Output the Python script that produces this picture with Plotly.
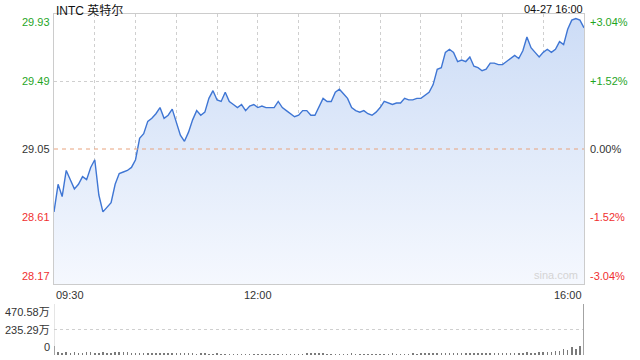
import plotly.graph_objects as go

# ---- data ----
minutes = list(range(0, 391, 3))  # minutes after 09:30
prices = [
    28.64, 28.82, 28.74, 28.91, 28.85, 28.79, 28.82, 28.87, 28.85, 28.93,
    28.98, 28.75, 28.64, 28.67, 28.70, 28.82, 28.89, 28.90, 28.91, 28.93,
    28.98, 29.12, 29.15, 29.23, 29.25, 29.28, 29.32, 29.25, 29.27, 29.31,
    29.23, 29.14, 29.10, 29.16, 29.24, 29.30, 29.27, 29.29, 29.38, 29.43,
    29.37, 29.36, 29.42, 29.36, 29.34, 29.32, 29.34, 29.30, 29.33, 29.34,
    29.32, 29.33, 29.32, 29.32, 29.32, 29.36, 29.32, 29.30, 29.28, 29.26,
    29.27, 29.30, 29.30, 29.27, 29.27, 29.32, 29.38, 29.36, 29.36, 29.42,
    29.44, 29.41, 29.38, 29.32, 29.30, 29.29, 29.30, 29.28, 29.27, 29.29,
    29.32, 29.36, 29.35, 29.34, 29.35, 29.35, 29.38, 29.37, 29.37, 29.38,
    29.38, 29.40, 29.42, 29.47, 29.57, 29.58, 29.68, 29.70, 29.68, 29.62,
    29.63, 29.62, 29.65, 29.59, 29.58, 29.56, 29.57, 29.61, 29.61, 29.60,
    29.60, 29.62, 29.64, 29.66, 29.64, 29.69, 29.78, 29.71, 29.68, 29.65,
    29.68, 29.70, 29.68, 29.70, 29.75, 29.73, 29.83, 29.89, 29.90, 29.89,
    29.84,
]
volumes = [  # 万 shares
    85,
    28, 22, 25, 20, 24, 18, 22, 26, 30, 20, 18, 25, 22, 20, 28, 24, 26, 30, 22, 20,
    18, 20, 15, 22, 18, 16, 14, 20, 18, 15, 14, 16, 18, 14, 12, 15, 14, 13, 12, 14,
    10, 12, 11, 10, 9, 11, 10, 12, 10, 9, 10, 11, 9, 10, 12, 10, 11, 9, 10, 12,
    12, 14, 16, 18, 15, 14, 12, 13, 12, 11, 10, 12, 14, 12, 11, 10, 12, 11, 13, 12,
    12, 13, 14, 12, 11, 13, 12, 14, 13, 15, 16, 18, 20, 18, 16, 15, 17, 16, 14, 15,
    14, 16, 15, 18, 17, 16, 15, 18, 20, 19, 18, 20, 22, 18, 20, 24, 22, 20, 25, 24,
    26, 30, 35, 40, 55, 45, 70, 60, 80,
    470.58,
]
prev_close = 29.05
price_ticks = [29.93, 29.49, 29.05, 28.61, 28.17]
price_labels = ["29.93", "29.49", "29.05", "28.61", "28.17"]
pct_labels = ["+3.04%", "+1.52%", "0.00%", "-1.52%", "-3.04%"]
vol_ticks = [470.58, 235.29, 0]
vol_labels = ["470.58万", "235.29万", "0"]
time_ticks = [0, 150, 390]
time_labels = ["09:30", "12:00", "16:00"]
title = "INTC 英特尔"
stamp = "04-27 16:00"

W, H = 640, 360
def px(x):
    return x / W
def py(y):
    return 1 - y / H

FONT = "Liberation Sans, Arial, Noto Sans CJK SC, sans-serif"
GREEN = "#1fa51f"
RED = "#f03030"
DARK = "#333333"
GRID = "#cfcfcf"
BORDER = "#cccccc"

fig = go.Figure()
fig.add_trace(go.Scatter(
    x=minutes, y=prices, mode="lines",
    line=dict(color="#3f76d4", width=1.4),
    fill="tozeroy",
    fillgradient=dict(type="vertical", start=28.17, stop=29.93,
                      colorscale=[[0, "rgb(245,248,254)"], [1, "rgb(204,220,246)"]]),
    xaxis="x", yaxis="y", hoverinfo="skip",
))
fig.add_trace(go.Bar(
    x=minutes, y=volumes, marker=dict(color="#7a7a7a", line=dict(width=0)),
    width=1.1, xaxis="x2", yaxis="y2", hoverinfo="skip",
))

x_dom = [px(54), px(584)]
fig.update_layout(
    width=W, height=H, margin=dict(l=0, r=0, t=0, b=0),
    paper_bgcolor="white", plot_bgcolor="white", showlegend=False,
    font=dict(family=FONT, size=11, color=DARK),
    xaxis=dict(domain=x_dom, range=[0, 390], tickvals=list(range(0, 391, 30)),
               showticklabels=False, ticks="", showgrid=True, gridcolor=GRID,
               griddash="dot", gridwidth=1, zeroline=False,
               showline=True, linecolor=BORDER, mirror=True, anchor="y"),
    yaxis=dict(domain=[py(284), py(14)], range=[28.17, 29.93],
               tickvals=[29.49, 28.61], showticklabels=False, ticks="",
               showgrid=True, gridcolor=GRID, griddash="dot", zeroline=False,
               showline=True, linecolor=BORDER, mirror=True, anchor="x"),
    xaxis2=dict(domain=x_dom, range=[0, 390], matches="x", showticklabels=False,
                ticks="", showgrid=False, zeroline=False, anchor="y2",
                showline=False),
    yaxis2=dict(domain=[py(355), py(304)], range=[0, 470.58],
                tickvals=[470.58, 235.29], showticklabels=False, ticks="",
                showgrid=True, gridcolor=GRID, griddash="dot", zeroline=False,
                showline=False, anchor="x2"),
    bargap=0,
)

# previous close reference line
fig.add_shape(type="line", xref="x", yref="y", x0=0, x1=390, y0=prev_close, y1=prev_close,
              line=dict(color="#e8a27c", width=1, dash="4px,4px"))
# volume pane side borders
for xv in (0, 390):
    fig.add_shape(type="line", xref="x2", yref="y2", x0=xv, x1=xv, y0=0, y1=470.58,
                  line=dict(color=BORDER, width=1))

anns = []
anchors = ["top", "middle", "middle", "middle", "bottom"]
colors = [GREEN, GREEN, DARK, RED, RED]
for v, lab, pct, anc, c in zip(price_ticks, price_labels, pct_labels, anchors, colors):
    anns.append(dict(x=px(52), xref="paper", y=v, yref="y", text=lab, showarrow=False,
                     xanchor="right", yanchor=anc, font=dict(color=c, size=11)))
    anns.append(dict(x=px(588), xref="paper", y=v, yref="y", text=pct, showarrow=False,
                     xanchor="left", yanchor=anc, font=dict(color=c, size=11)))
for v, lab, anc in zip(vol_ticks, vol_labels, ["top", "middle", "bottom"]):
    anns.append(dict(x=px(52), xref="paper", y=v, yref="y2", text=lab, showarrow=False,
                     xanchor="right", yanchor=anc, font=dict(color=DARK, size=11)))
for v, lab, anc in zip(time_ticks, time_labels, ["left", "center", "right"]):
    anns.append(dict(x=v, xref="x", y=py(287), yref="paper", text=lab, showarrow=False,
                     xanchor=anc, yanchor="top", font=dict(color=DARK, size=11)))
anns.append(dict(x=px(54), xref="paper", y=py(1), yref="paper", text=title, showarrow=False,
                 xanchor="left", yanchor="top", font=dict(color="#111111", size=12)))
anns.append(dict(x=px(585), xref="paper", y=py(1), yref="paper", text=stamp, showarrow=False,
                 xanchor="right", yanchor="top", font=dict(color="#111111", size=11)))
anns.append(dict(x=px(580), xref="paper", y=py(283), yref="paper", text="sina.com",
                 showarrow=False, xanchor="right", yanchor="bottom",
                 font=dict(color="#d4d4d4", size=11)))
fig.update_layout(annotations=anns)

fig.write_html(
    "out.html",
    config={"displayModeBar": False, "staticPlot": True},
    post_script="document.body.style.margin='0';document.body.style.overflow='hidden';",
)
